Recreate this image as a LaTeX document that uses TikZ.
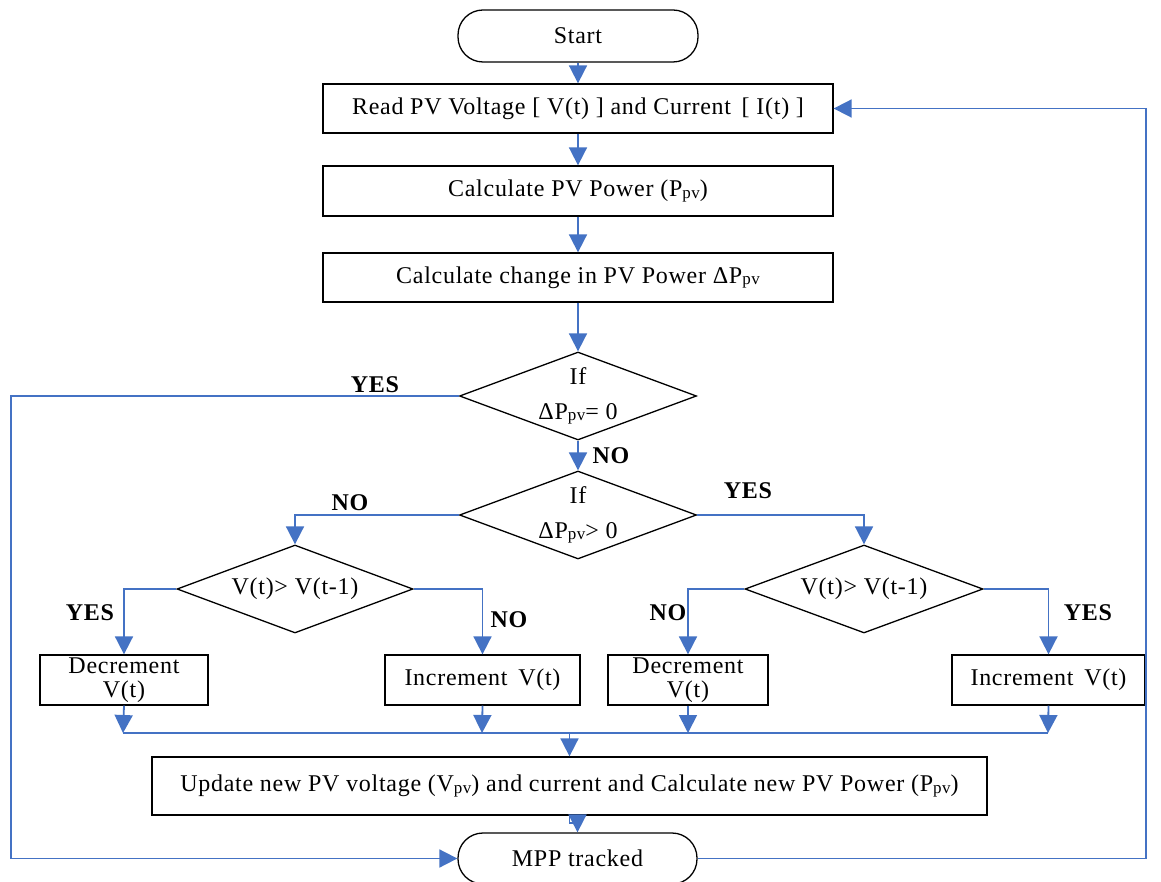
\documentclass[tikz,border=0pt]{standalone}
\usepackage{fontspec}
\setmainfont{Liberation Serif}[LetterSpace=3]
\usetikzlibrary{shapes.geometric,arrows.meta}
\definecolor{linkblue}{HTML}{4472C4}
\newcommand\pv{\raisebox{-1.5pt}{\fontsize{17}{17}\selectfont pv}}
\begin{document}
\begin{tikzpicture}[x=1pt,y=-1pt, font=\fontsize{24}{26}\selectfont,
  box/.style={draw, line width=1.3pt, minimum height=49pt, inner sep=0pt, align=center},
  term/.style={draw, line width=1.3pt, rounded corners=25pt, minimum width=240pt, minimum height=52pt},
  dia/.style={draw, diamond, line width=1.3pt, minimum width=237pt, minimum height=88pt, inner sep=0pt},
  conn/.style={draw=linkblue, line width=1.8pt},
  arr/.style={conn, -{Triangle[width=18pt,length=18pt]}},
  lab/.style={font=\fontsize{24}{26}\selectfont\bfseries},
  dlab/.style={align=center, font=\fontsize{24}{35}\selectfont}]
\fill[white] (0,0) rectangle (1161,882);
\useasboundingbox (0,0) rectangle (1161,882);

\node[term] (start) at (578,36) {Start};
\node[box, minimum width=510pt] (read) at (578,108.5) {Read PV Voltage [ V(t) ] and Current\, [ I(t) ]};
\node[box, minimum width=510pt, minimum height=50pt] (calcP) at (578,191) {Calculate PV Power (P\pv)};
\node[box, minimum width=510pt] (calcD) at (578,277.5) {Calculate change in PV Power ΔP\pv};
\node[dia] (d1) at (578,396) {};
\node[dlab] (d1t) at (d1) {If\\ΔP\pv= 0};
\node[dia] (d2) at (578,515) {};
\node[dlab] (d2t) at (d2) {If\\ΔP\pv> 0};
\node[dia, minimum width=236pt] (d3) at (295,589) {};
\node[dlab] (d3t) at (d3) {V(t)> V(t-1)};
\node[dia, minimum width=238pt] (d4) at (864,589) {};
\node[dlab] (d4t) at (d4) {V(t)> V(t-1)};
\node[box, minimum width=168pt, minimum height=50pt] (dec1) at (124,680) {\raisebox{-3pt}{Decrement}\\[1pt]V(t)};
\node[box, minimum width=195pt, minimum height=50pt] (inc1) at (482.5,680) {Increment\, V(t)};
\node[box, minimum width=160pt, minimum height=50pt] (dec2) at (688,680) {\raisebox{-3pt}{Decrement}\\[1pt]V(t)};
\node[box, minimum width=193pt, minimum height=50pt] (inc2) at (1048.5,680) {Increment\, V(t)};
\node[box, minimum width=835pt, minimum height=58pt] (upd) at (569.5,786) {Update new PV voltage (V\pv) and current and Calculate new PV Power (P\pv)};
\node[term, minimum width=239pt, minimum height=51pt] (mpp) at (577.5,858.5) {MPP tracked};

\coordinate (m1) at (123,733);
\coordinate (m2) at (482,733);
\coordinate (m3) at (688,733);
\coordinate (m4) at (1048,733);
\coordinate (mc) at (569.5,733);

\draw[arr] (start) -- (read);
\draw[arr] (read) -- (calcP);
\draw[arr] (calcP) -- (calcD);
\draw[arr] (calcD) -- (d1);
\draw[arr] (d1) -- (d2);
\draw[arr] (d1.west) -- (11,396) -- (11,858.5) -- (mpp.west);
\draw[arr] (d2.west) -| (d3.north);
\draw[arr] (d2.east) -| (d4.north);
\draw[arr] (d3.west) -| (dec1.north);
\draw[arr] (d3.east) -| (inc1.north);
\draw[arr] (d4.west) -| (dec2.north);
\draw[arr] (d4.east) -| (inc2.north);
\draw[arr] (dec1.south) -- (m1);
\draw[arr] (inc1.south) -- (m2);
\draw[arr] (dec2.south) -- (m3);
\draw[arr] (inc2.south) -- (m4);
\draw[conn] (m1) -- (m4);
\draw[arr] (mc) -- (upd.north);
\draw[arr] (upd.south) -- ++(0,7) -| (mpp.north);
\draw[arr] (mpp.east) -- (1146,858.5) -- (1146,108.5) -- (read.east);

\node[lab] (l1) at (375,385) {YES};
\node[lab] (l2) at (611,456) {NO};
\node[lab] (l3) at (350,503) {NO};
\node[lab] (l4) at (748,491) {YES};
\node[lab] (l5) at (90,613) {YES};
\node[lab] (l6) at (509,620) {NO};
\node[lab] (l7) at (668,613) {NO};
\node[lab] (l8) at (1088,613) {YES};
\end{tikzpicture}
\end{document}
